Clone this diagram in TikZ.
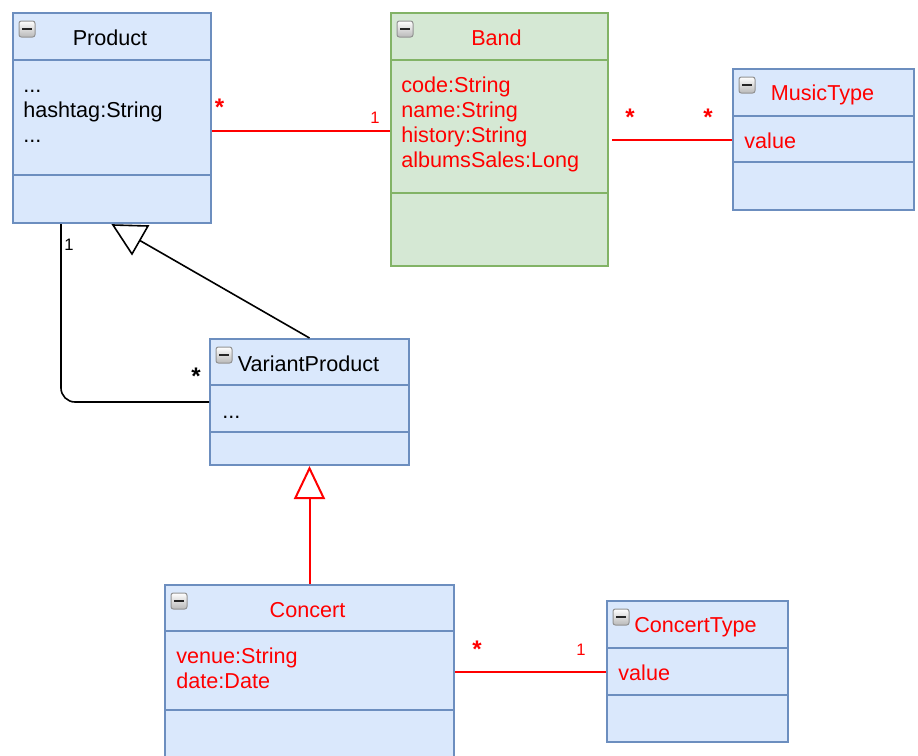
\documentclass[tikz,border=0pt]{standalone}
\usepackage{fontspec}
\setmainfont{Liberation Sans}
\usetikzlibrary{arrows.meta}

\definecolor{clsblue}{HTML}{6C8EBF}
\definecolor{clsbluefill}{HTML}{DAE8FC}
\definecolor{clsgreen}{HTML}{82B366}
\definecolor{clsgreenfill}{HTML}{D5E8D4}
\definecolor{umlred}{HTML}{FF0000}

\begin{document}
\begin{tikzpicture}[x=0.5pt,y=-0.5pt]
\tikzset{
  cls/.style={draw=clsblue, fill=clsbluefill, line width=1pt, inner sep=0pt, anchor=north west},
  greencls/.style={cls, draw=clsgreen, fill=clsgreenfill},
  title/.style={font=\fontsize{10.8}{12.5}\selectfont},
  attr/.style={font=\fontsize{10.8}{12.5}\selectfont, align=left, anchor=north west, inner sep=0pt},
  assoc/.style={line width=1pt, umlred},
  assocb/.style={line width=0.8pt, black},
  many/.style={font=\fontsize{12}{12}\selectfont\bfseries, anchor=base, inner sep=0pt},
  one/.style={font=\fontsize{8.3}{9}\selectfont, anchor=base, inner sep=0pt},
  iconbox/.style={draw=gray!85, top color=white, bottom color=gray!55, rounded corners=1.2pt, line width=0.5pt},
  icondash/.style={line width=1.2pt, black!85}
}
\useasboundingbox (0,0) rectangle (918,756);
\clip (0,0) rectangle (918,756);

% classes
\node[cls, minimum width=99pt, minimum height=105pt] (product) at (12,12) {};
\node[greencls, minimum width=108.5pt, minimum height=126.5pt] (band) at (390,12) {};
\node[cls, minimum width=90.5pt, minimum height=70.5pt] (music) at (732,68) {};
\node[cls, minimum width=99.5pt, minimum height=63pt] (variant) at (209,338) {};
\node[cls, minimum width=144.5pt, minimum height=90pt] (concert) at (164,584) {};
\node[cls, minimum width=90.5pt, minimum height=70.5pt] (ctype) at (606,600) {};

% compartments
\foreach \c/\d in {product/48, product/163, music/48, music/94, variant/47, variant/94,
                   concert/47, concert/126, ctype/48, ctype/95}
  \draw[clsblue, line width=1pt] ([shift={(0,\d)}]\c.north west) -- ([shift={(0,\d)}]\c.north east);
\foreach \d in {48,181}
  \draw[clsgreen, line width=1pt] ([shift={(0,\d)}]band.north west) -- ([shift={(0,\d)}]band.north east);

% collapse buttons
\foreach \c in {product,band,music,variant,concert,ctype} {
  \draw[iconbox] ([shift={(7,9)}]\c.north west) rectangle ++(16,16);
  \draw[icondash] ([shift={(10,17)}]\c.north west) -- ++(10,0);
}

% names
\node[title] (product-name) at ([shift={(-2,26)}]product.north) {Product};
\node[title, text=umlred] (band-name) at ([shift={(-3,26)}]band.north) {Band};
\node[title, text=umlred] (music-name) at ([shift={(-1,27)}]music.north) {MusicType};
\node[title] (variant-name) at ([shift={(-1,26)}]variant.north) {VariantProduct};
\node[title, text=umlred] (concert-name) at ([shift={(-2,26)}]concert.north) {Concert};
\node[title, text=umlred] (ctype-name) at ([shift={(-2,27)}]ctype.north) {ConcertType};

% attributes
\node[attr] (product-attr) at ([shift={(11,63)}]product.north west) {\strut...\\hashtag:String\\...};
\node[attr, text=umlred] (band-attr) at ([shift={(11,63)}]band.north west)
  {\strut code:String\\name:String\\history:String\\albumsSales:Long};
\node[attr, text=umlred] (music-attr) at ([shift={(12,63)}]music.north west) {\strut value};
\node[attr] (variant-attr) at ([shift={(13,63)}]variant.north west) {\strut...};
\node[attr, text=umlred] (concert-attr) at ([shift={(12,62)}]concert.north west)
  {\strut venue:String\\date:Date};
\node[attr, text=umlred] (ctype-attr) at ([shift={(12,63)}]ctype.north west) {\strut value};

% associations
\draw[assoc] ([yshift=-6.5pt]product.east) -- ([yshift=4.25pt]band.west);
\draw[assoc] ([xshift=1.5pt]band.east) -- (music.west);
\draw[assoc] (concert.east |- ctype.west) -- (ctype.west);
\draw[assocb, rounded corners=7pt] ([xshift=-25.5pt]product.south) |- (variant.west);

% generalizations
\draw[assocb] (variant.north) -- ([shift={(27,16)}]product.south);
\draw[assocb, fill=white] ([shift={(1,1)}]product.south) -- ([shift={(36,2)}]product.south)
  -- ([shift={(20,30)}]product.south) -- cycle;
\draw[assoc, -{Triangle[open, length=16.5pt, width=15.5pt]}] (concert.north) -- (variant.south);

% multiplicities
\node[many, text=umlred] (pb-many) at (219.5,115) {*};
\node[one, text=umlred] (pb-one) at (375,123) {1};
\node[many, text=umlred] (bm-many-a) at (630,125) {*};
\node[many, text=umlred] (bm-many-b) at (708,125) {*};
\node[one] (pv-one) at (69,250) {1};
\node[many] (pv-many) at (196,384) {*};
\node[many, text=umlred] (cc-many) at (477,657) {*};
\node[one, text=umlred] (cc-one) at (581,655) {1};
\end{tikzpicture}
\end{document}
